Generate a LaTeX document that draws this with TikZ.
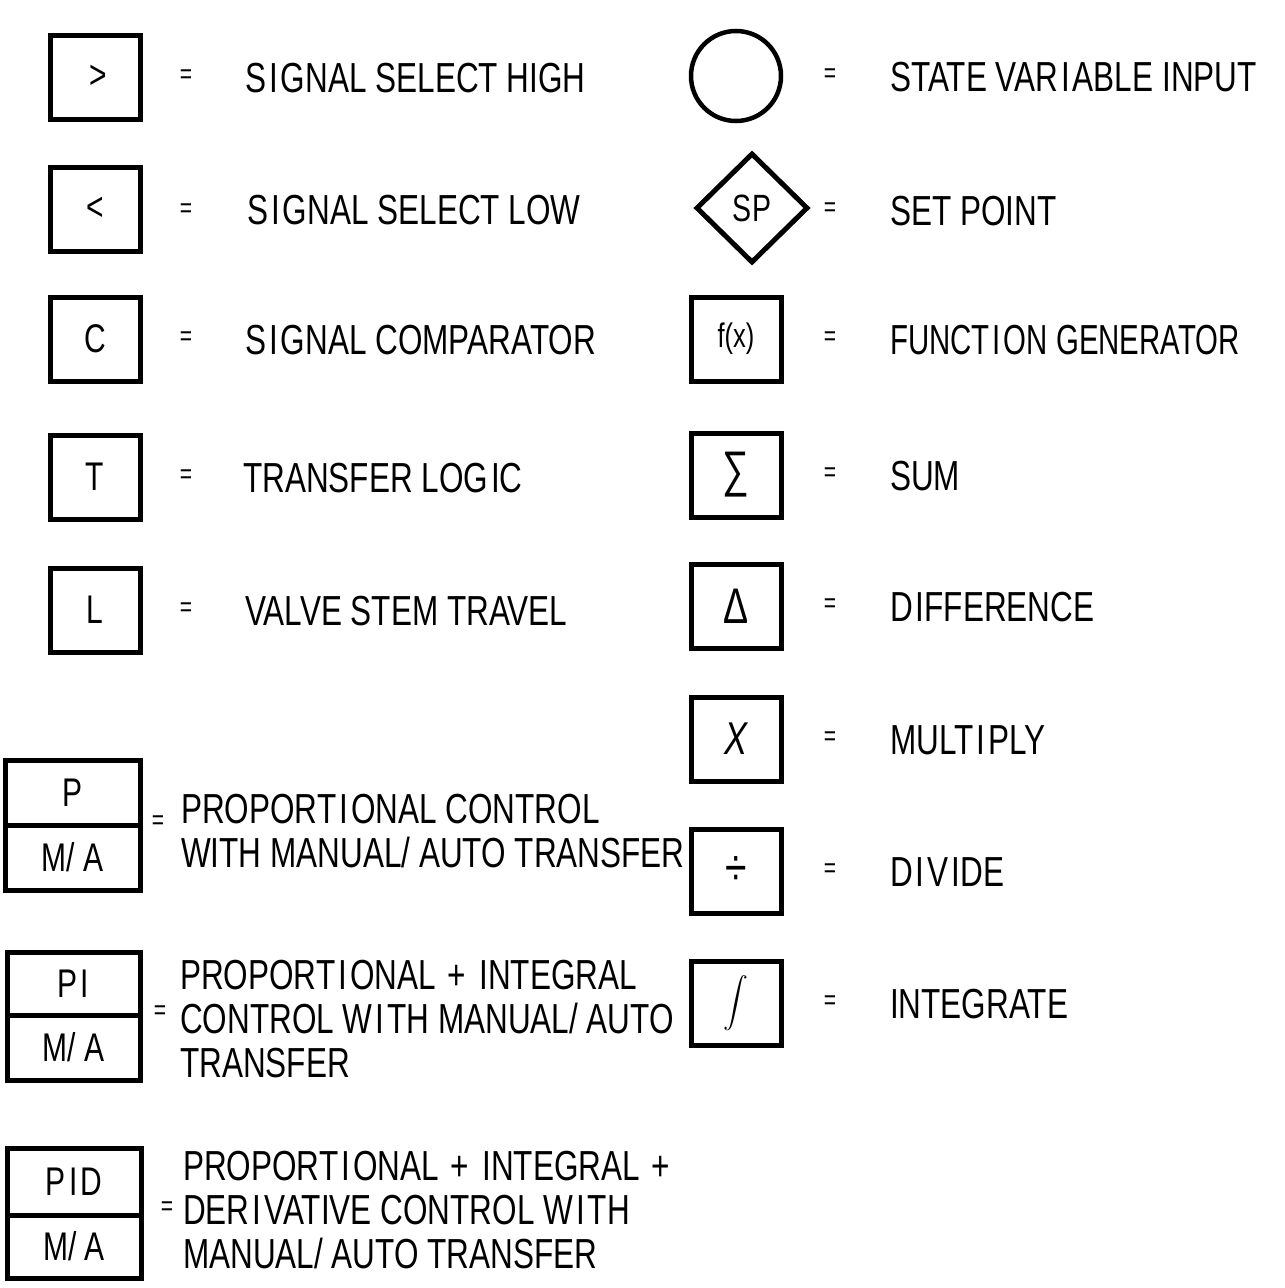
\documentclass[tikz,border=0pt]{standalone}
\usepackage{fontspec}
\usepackage{exscale}
\setmainfont{Liberation Sans}[FakeStretch=0.75]
\newfontfamily\narrowfont{Liberation Sans}[FakeStretch=0.70]
\usetikzlibrary{shapes.geometric}
\newcommand\descfont{\fontsize{42}{44}\selectfont}
\newcommand\eqfont{\fontsize{28}{28}\selectfont}
\newcommand\symfnt{\fontsize{40}{40}\selectfont}
\newcommand\gp{\kern3pt}
\newcommand\pl{\hspace{12pt}+\hspace{13pt}}
\begin{document}
\begin{tikzpicture}[x=1pt,y=-1pt,
  symbox/.style={draw, line width=5pt, minimum width=90pt, minimum height=84pt, inner sep=0pt, font=\symfnt},
  ctlbox/.style={draw, line width=5pt, inner sep=0pt, font=\symfnt},
  eqsign/.style={font=\eqfont, inner sep=0pt},
  desc/.style={anchor=base west, align=left, font=\descfont, inner sep=0pt}]
\useasboundingbox (0,0) rectangle (1285,1288);
% left column
\node[symbox] (sh) at (95,77) {\hspace{6pt}>};
\node[eqsign] (eq1) at (186,77) {=};
\node[desc] (t1) at (245,92) {S\gp I\gp GNAL SELECT HIGH};
\node[symbox] (sl) at (95,209) {<};
\node[eqsign] (eq2) at (186,211) {=};
\node[desc] (t2) at (247,224) {S\gp I\gp GNAL SELECT LOW};
\node[symbox] (sc) at (95,339) {C};
\node[eqsign] (eq3) at (186,339) {=};
\node[desc] (t3) at (245,354) {S\gp I\gp GNAL COMPARATOR};
\node[symbox] (st) at (95,477) {T};
\node[eqsign] (eq4) at (186,477) {=};
\node[desc] (t4) at (243,492) {TRANSFER LOG\gp IC};
\node[symbox] (sv) at (95,610) {L};
\node[eqsign] (eq5) at (186,610) {=};
\node[desc] (t5) at (245,625) {VALVE STEM TRAVEL};
% P
\node[ctlbox, minimum width=135pt, minimum height=65pt] (pa) at (72.5,792.5) {P};
\node[ctlbox, minimum width=135pt, minimum height=65pt] (pb) at (72.5,857.5) {M/ A};
\node[eqsign] (eq6) at (158,823) {=};
\node[desc] (t6) at (181,867) {PROPORT\gp I\gp ONAL CONTROL\\WITH MANUAL/ AUTO TRANSFER};
% PI
\node[ctlbox, minimum width=133pt, minimum height=63pt] (pia) at (73.5,983.5) {P\gp I};
\node[ctlbox, minimum width=133pt, minimum height=65pt] (pib) at (73.5,1047.5) {M/ A};
\node[eqsign] (eq7) at (160,1013) {=};
\node[desc] (t7) at (180,1077) {PROPORT\gp I\gp ONAL\pl INTEGRAL\\CONTROL W\gp I\gp TH MANUAL/ AUTO\\TRANSFER};
% PID
\node[ctlbox, minimum width=134pt, minimum height=67pt] (pida) at (74,1181.5) {P\gp I\gp D};
\node[ctlbox, minimum width=134pt, minimum height=63pt] (pidb) at (74,1246.5) {M/ A};
\node[eqsign] (eq8) at (167,1209) {=};
\node[desc] (t8) at (183,1268) {PROPORT\gp I\gp ONAL\pl INTEGRAL\hspace{12pt}+\\DER\gp I\gp VATIVE CONTROL W\gp I\gp TH\\MANUAL/ AUTO TRANSFER};
% right column
\node[draw, circle, line width=4.5pt, minimum size=90pt, inner sep=0pt] (sv1) at (736,76) {};
\node[eqsign] (eq9) at (830,76) {=};
\node[desc] (t9) at (890,91) {STATE VAR\gp I\gp ABLE INPUT};
\node[draw, diamond, line width=5pt, minimum width=112pt, minimum height=110pt, inner sep=0pt, font=\fontsize{38}{38}\selectfont] (sp) at (752,208) {SP};
\node[eqsign] (eq10) at (830,210) {=};
\node[desc] (t10) at (890,225) {SET POINT};
\node[symbox, font=\fontsize{34}{34}\selectfont] (fx) at (736,339) {f(x)};
\node[eqsign] (eq11) at (830,339) {=};
\node[desc, font=\narrowfont\fontsize{42}{44}\selectfont] (t11) at (890,354) {FUNCT\gp I\gp ON GENERATOR};
\node[symbox, font=\fontsize{50}{50}\selectfont] (sum) at (736,475) {∑};
\node[eqsign] (eq12) at (830,475) {=};
\node[desc] (t12) at (890,490) {SUM};
\node[symbox, font=\fontsize{50}{50}\selectfont] (dif) at (736,606) {Δ};
\node[eqsign] (eq13) at (830,606) {=};
\node[desc] (t13) at (890,621) {D\gp IFFERENCE};
\node[symbox, font=\fontsize{46}{46}\selectfont] (mul) at (736,739) {\itshape X};
\node[eqsign] (eq14) at (830,739) {=};
\node[desc] (t14) at (890,754) {MULT\gp I\gp PLY};
\node[symbox, font=\fontsize{52}{52}\selectfont] (div) at (736,871) {÷};
\node[eqsign] (eq15) at (830,871) {=};
\node[desc] (t15) at (890,886) {D\gp I\gp V\gp IDE};
\node[symbox, font=\fontsize{33}{33}\selectfont] (int) at (736,1003) {$\displaystyle\int$};
\node[eqsign] (eq16) at (830,1003) {=};
\node[desc] (t16) at (890,1018) {INTEGRATE};
\end{tikzpicture}
\end{document}
